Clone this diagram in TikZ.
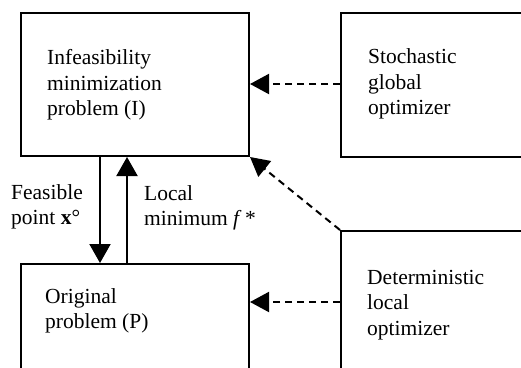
\documentclass[tikz,border=0pt]{standalone}
\usepackage{fontspec}
\setmainfont{Liberation Serif}
\usetikzlibrary{arrows.meta}
\begin{document}
\begin{tikzpicture}[x=1pt,y=-1pt,
  box/.style={draw,line width=2pt,anchor=north west,inner sep=0pt},
  txt/.style={anchor=west,align=left,inner sep=0pt,font=\fontsize{21.5}{25.5}\selectfont},
  solidarrow/.style={line width=2pt,-{Triangle[width=21pt,length=19pt]}},
  dasharrow/.style={line width=2pt,dash pattern=on 7pt off 5pt,-{Triangle[width=20pt,length=19pt]}}]
\useasboundingbox (0,0) rectangle (521,367);
\clip (0,0) rectangle (521,367);
\node[box,minimum width=228pt,minimum height=143pt] (I) at (20,12) {};
\node[box,minimum width=220pt,minimum height=144pt] (S) at (340,12) {};
\node[box,minimum width=228pt,minimum height=140pt] (P) at (20,263) {};
\node[box,minimum width=220pt,minimum height=170pt] (D) at (340,230) {};
\node[txt] (tI) at (47,85) {Infeasibility\\minimization\\problem (I)};
\node[txt] (tS) at (368,84) {Stochastic\\global\\optimizer};
\node[txt] (tP) at (45,311) {Original\\problem (P)};
\node[txt] (tD) at (367,305) {Deterministic\\local\\optimizer};
\node[txt] (lf) at (11,207) {Feasible\\point \textbf{x}°};
\node[txt] (ll) at (144,208) {Local\\minimum \textit{f}\,*};
\draw[solidarrow] (I.south west -| 100,0) -- (P.north west -| 100,0);
\draw[solidarrow] (P.north west -| 127,0) -- (I.south west -| 127,0);
\draw[dasharrow] (S.west |- 0,84) -- (I.east |- 0,84);
\draw[dasharrow] (D.west |- 0,302) -- (P.east |- 0,302);
\draw[dasharrow] (D.north west) -- (I.south east);
\end{tikzpicture}
\end{document}
